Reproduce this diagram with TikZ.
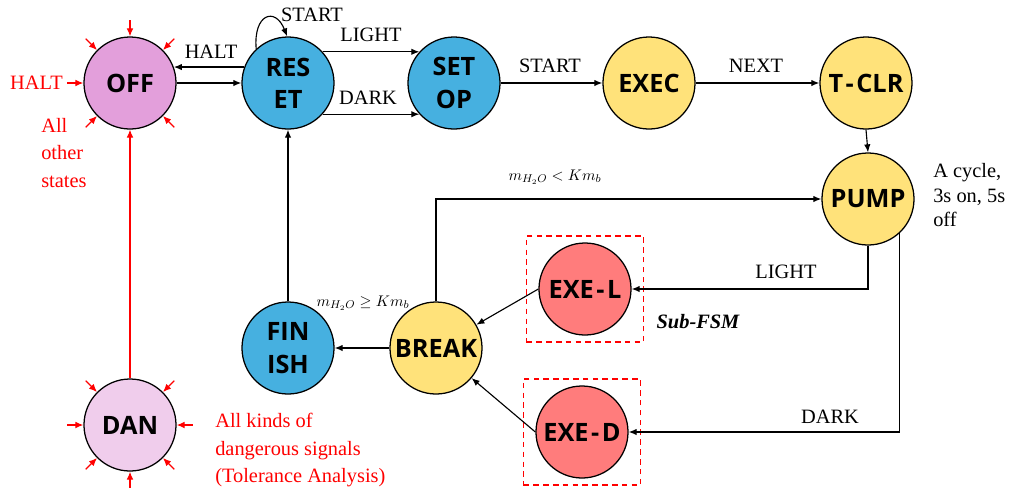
\documentclass[tikz,border=0pt]{standalone}
\usepackage{fontspec}
\setmainfont{Liberation Serif}
\newfontfamily\statefont{Open Sans}[BoldFont={* Bold}]
\newfontfamily\labelfont{Liberation Serif}
\usetikzlibrary{calc,arrows.meta,fit}
\definecolor{offc}{RGB}{227,159,219}
\definecolor{danc}{RGB}{240,205,236}
\definecolor{bluec}{RGB}{70,176,224}
\definecolor{yelc}{RGB}{255,226,122}
\definecolor{redc}{RGB}{255,124,124}
\definecolor{alarm}{RGB}{255,0,0}
\newcommand{\hyph}{\kern1.8pt-\kern1.8pt}
\begin{document}
\begin{tikzpicture}[x=0.025cm,y=-0.025cm,
 state/.style={circle,draw=black,line width=0.9pt,minimum size=2.3cm,inner sep=0pt,align=center,
   font=\statefont\bfseries\fontsize{18}{23}\selectfont},
 arr/.style={-{Latex[length=2mm,width=1.6mm]},line width=0.8pt},
 redarr/.style={-{Latex[length=2mm,width=1.7mm]},line width=0.9pt,draw=alarm},
 lbl/.style={font=\labelfont\fontsize{14.5}{18}\selectfont,inner sep=0pt},
 rlbl/.style={font=\labelfont\fontsize{14.5}{18.5}\selectfont\color{alarm},inner sep=0pt,align=left},
 mlbl/.style={font=\fontsize{11}{13}\selectfont,inner sep=0pt},
 subbox/.style={draw=alarm,line width=1pt,dash pattern=on 4pt off 3pt,inner xsep=0.3cm,inner ysep=0.16cm}
]
\useasboundingbox (0,0) rectangle (1009,489);

% red annotations
\node[rlbl,anchor=east] (RHALT) at (63,83) {HALT};
\node[rlbl,anchor=north west] (ROTHER) at (41,118) {All\\[1pt]other\\[1pt]states};
\node[rlbl,anchor=north west] (RDAN) at (215,413) {All kinds of\\[1pt]dangerous signals\\[1pt](Tolerance Analysis)};

% states
\node[state,fill=offc] (OFF) at (130,83) {OFF};
\node[state,fill=danc] (DAN) at (130,425) {DAN};
\node[state,fill=bluec] (RESET) at (288,83) {RES\\ET};
\node[state,fill=bluec] (SETOP) at (454,83) {SET\\OP};
\node[state,fill=yelc] (EXEC) at (649,83) {EXEC};
\node[state,fill=yelc] (TCLR) at (866,83) {T\hyph CLR};
\node[state,fill=yelc] (PUMP) at (868,199) {PUMP};
\node[state,fill=redc] (EXEL) at (585,289) {EXE\hyph L};
\node[state,fill=redc] (EXED) at (582,432) {EXE\hyph D};
\node[state,fill=yelc] (BREAK) at (436,348) {BREAK};
\node[state,fill=bluec] (FINISH) at (288,348) {FIN\\ISH};

% sub-FSM boxes
\node[subbox,fit=(EXEL)] (BOXL) {};
\node[subbox,fit=(EXED)] (BOXD) {};
\node[inner sep=0pt,font=\labelfont\fontsize{14.5}{18}\selectfont\bfseries\itshape] (SUB) at (698,322) {Sub-FSM};

% connectors
\draw[arr] (OFF.east) -- (RESET.west);
\draw[arr] (RESET.160) -- (OFF.20);
\node[lbl] (LHALT) at (211,52) {HALT};
\draw[arr] (RESET.133) .. controls +(-3,-35) and +(-12,-30) .. (RESET.91);
\node[lbl] (LSTART1) at (312,15) {START};
\draw[arr] (RESET.42) -- (SETOP.138);
\node[lbl] (LLIGHT1) at (371,35) {LIGHT};
\draw[arr] (RESET.-42) -- (SETOP.-138);
\node[lbl] (LDARK1) at (368,98) {DARK};
\draw[arr] (SETOP.east) -- (EXEC.west);
\node[lbl] (LSTART2) at (550,66) {START};
\draw[arr] (EXEC.east) -- (TCLR.west);
\node[lbl] (LNEXT) at (756,66) {NEXT};
\draw[arr] (TCLR.south) -- (PUMP.north);
\draw[arr] (BREAK.north) |- (PUMP.west);
\node[mlbl] (LLT) at (555,177) {$m_{H_2O} < Km_b$};
\draw[arr] (PUMP.south) |- (EXEL.east);
\node[lbl] (LLIGHT2) at (786,272) {LIGHT};
\draw[arr] (PUMP.-47) |- (EXED.east);
\node[lbl] (LDARK2) at (830,417) {DARK};
\draw[arr] (EXEL.west) -- (BREAK);
\draw[arr] (EXED.west) -- (BREAK);
\draw[arr] (BREAK.west) -- (FINISH.east);
\node[mlbl] (LGE) at (363,303) {$m_{H_2O} \geq Km_b$};
\draw[arr] (FINISH.north) -- (RESET.south);

% annotation
\node[lbl,align=left,anchor=north west] (CYC) at (933,163) {A cycle,\\[-0.5pt]3s on, 5s\\[-0.5pt]off};

% alarm arrows
\draw[redarr] (DAN.north) -- (OFF.south);
\foreach \ang in {45,90,135,180,225,315}
  \draw[redarr] ($(OFF.\ang)!-0.4cm!(OFF.center)$) -- (OFF.\ang);
\foreach \ang in {0,45,135,180,225,270,315}
  \draw[redarr] ($(DAN.\ang)!-0.4cm!(DAN.center)$) -- (DAN.\ang);
\end{tikzpicture}
\end{document}
